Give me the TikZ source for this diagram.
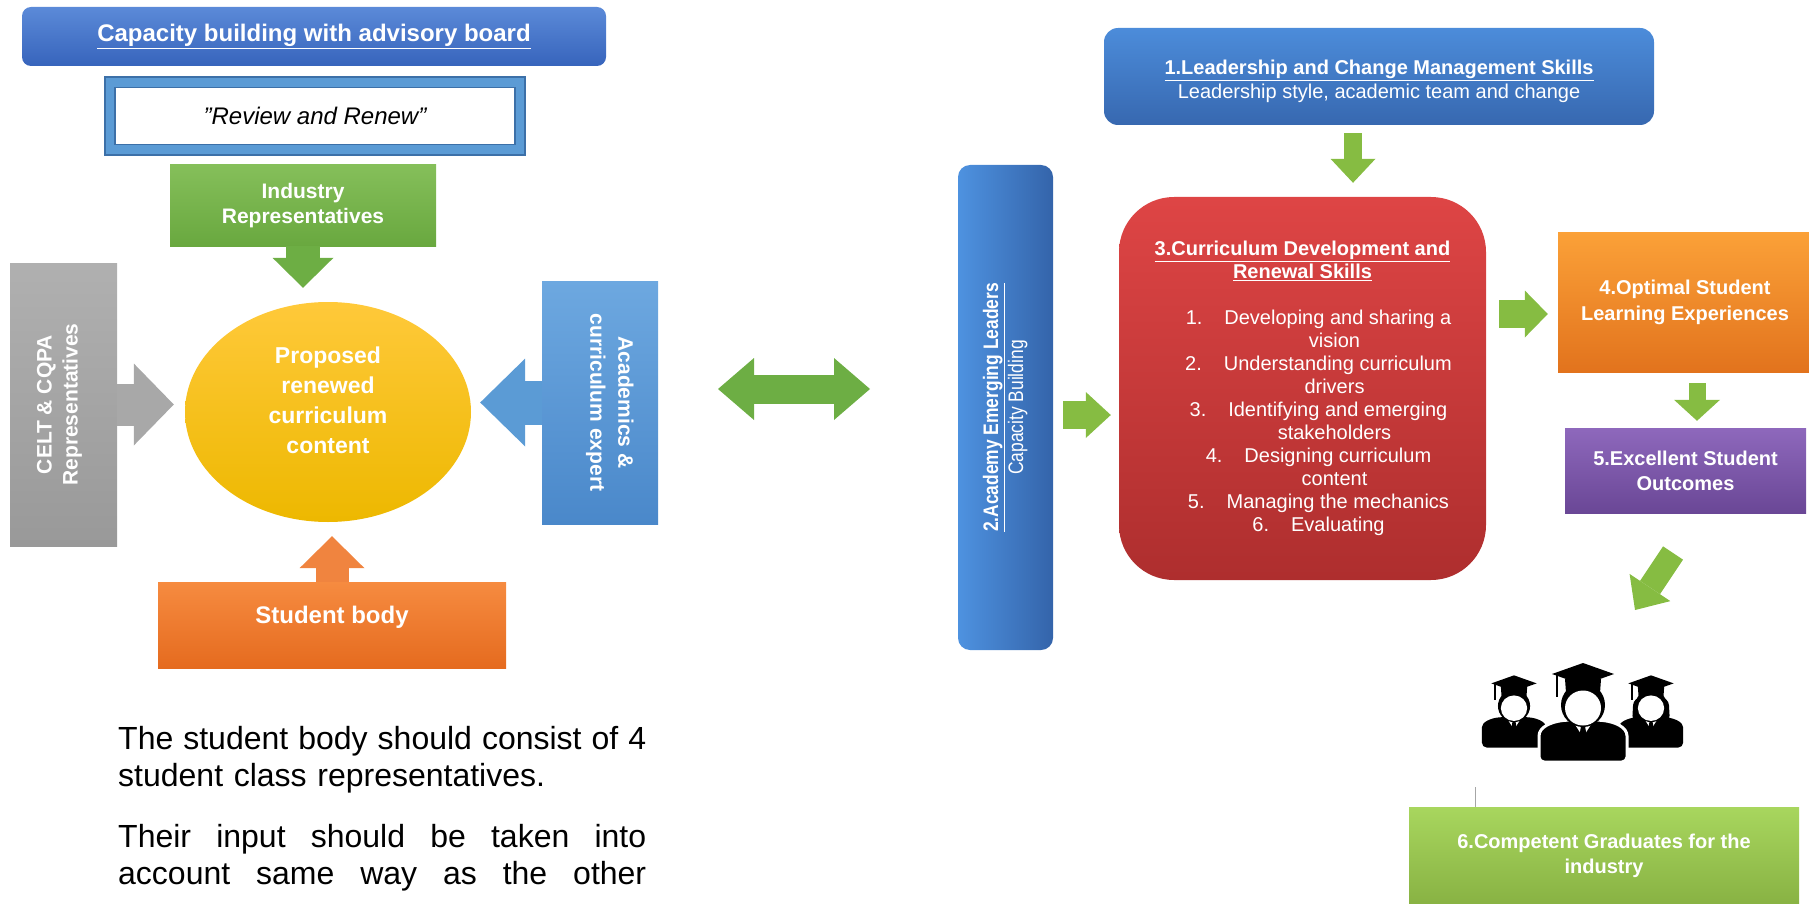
\documentclass[tikz,border=0pt]{standalone}
\usepackage{fontspec}
\setmainfont{Liberation Sans}
\newfontfamily\narrowfont[FakeStretch=0.83]{Liberation Sans}
\usetikzlibrary{arrows.meta,shapes.geometric}

\definecolor{boardtop}{HTML}{5B8AD8}
\definecolor{boardbot}{HTML}{3764BC}
\definecolor{framefill}{HTML}{5B9BD5}
\definecolor{frameline}{HTML}{3C70A8}
\definecolor{indtop}{HTML}{85BF5A}
\definecolor{indbot}{HTML}{69A83F}
\definecolor{celttop}{HTML}{B0B0B0}
\definecolor{celtbot}{HTML}{999999}
\definecolor{conttop}{HTML}{FFC93A}
\definecolor{contbot}{HTML}{EDB800}
\definecolor{acadtop}{HTML}{6DA8E0}
\definecolor{acadbot}{HTML}{4A88CA}
\definecolor{studtop}{HTML}{F68B40}
\definecolor{studbot}{HTML}{E56B1F}
\definecolor{leadtop}{HTML}{4C8CDA}
\definecolor{leadbot}{HTML}{3768B0}
\definecolor{barleft}{HTML}{4E92E0}
\definecolor{barright}{HTML}{3464AA}
\definecolor{currtop}{HTML}{DE4545}
\definecolor{currbot}{HTML}{AE2E2E}
\definecolor{opttop}{HTML}{FBA138}
\definecolor{optbot}{HTML}{E2731D}
\definecolor{exctop}{HTML}{8E68BC}
\definecolor{excbot}{HTML}{6A4796}
\definecolor{comptop}{HTML}{A8D65E}
\definecolor{compbot}{HTML}{88B243}
\definecolor{leafgreen}{HTML}{6DAE44}
\definecolor{limegreen}{HTML}{86BC42}
\definecolor{celtarrow}{HTML}{A8A8A8}
\definecolor{acadarrow}{HTML}{5B9BD5}
\definecolor{studarrow}{HTML}{F0843F}

% one graduate of the icon, #1 = head centre, #2 = scale, #3 = extra for the body
\newcommand{\gradperson}[3]{%
  \begin{scope}[shift={#1}, scale=#2]
    \fill[black, rounded corners=5pt, #3] (-44,57) -- (-44,36)
      .. controls (-44,22) and (-32,17) .. (-16,15) -- (16,15)
      .. controls (32,17) and (44,22) .. (44,36) -- (44,57) -- cycle;
    \fill[white] (-11,15) -- (0,32) -- (11,15) -- cycle;
    \fill[black] (-3,16) -- (3,16) -- (2,21) -- (3.5,30) -- (0,34) -- (-3.5,30) -- (-2,21) -- cycle;
    \fill[black] (0,0) ellipse [x radius=22, y radius=22];
    \fill[white] (0,3) ellipse [x radius=18, y radius=17.5];
    \fill[black] (-18,-26) -- (18,-26) -- (17,-12) .. controls (6,-17) and (-6,-17) .. (-17,-12) -- cycle;
    \fill[black] (-31,-31) -- (0,-42) -- (31,-31) -- (0,-20) -- cycle;
    \draw[black, line width=2.5pt] (-26,-30) -- (-26,-8);
  \end{scope}}
\newcommand{\gradhair}[2]{%
  \begin{scope}[shift={#1}, scale=#2]
    \fill[black, rounded corners=8pt] (-24,-12) -- (24,-12) -- (26,24) -- (-26,24) -- cycle;
  \end{scope}}

\begin{document}
\begin{tikzpicture}[x=1pt, y=-1pt,
    panel/.style={inner sep=0pt, align=center, text=white},
    blockarrow/.style n args={3}{line width=#1, -{Triangle[width=#2, length=#3, line width=0pt]}}]
	\useasboundingbox (0,0) rectangle (1809,904);

	% left half: the advisory board
	\node[panel, rounded corners=9pt, minimum width=584pt, minimum height=59pt, top color=boardtop, bottom color=boardbot,
		font=\fontsize{24}{28}\selectfont\bfseries] (board) at (314,36.5) {\underline{Capacity building with advisory board}};
	\node[draw=frameline, fill=framefill, line width=1.5pt, minimum width=420pt, minimum height=78pt] (frame) at (315,116) {};
	\node[draw=frameline, fill=white, line width=1.5pt, minimum width=400pt, minimum height=57pt,
		font=\fontsize{24}{28}\selectfont\itshape] (review) at (frame) {''Review and Renew''};
	\node[panel, minimum width=266pt, minimum height=81pt, top color=indtop, bottom color=indbot,
		font=\fontsize{21}{25}\selectfont\bfseries] (industry) at (303,205.5) {Industry\\Representatives};
	\node[panel, minimum width=107pt, minimum height=283pt, top color=celttop, bottom color=celtbot,
		font=\fontsize{21}{26}\selectfont\bfseries] (celt) at (63.5,404.5)
		{\rotatebox{90}{\begin{tabular}{@{}c@{}}CELT \& CQPA\\Representatives\\[-18pt]\mbox{}\end{tabular}}};
	\node[panel, ellipse, minimum width=286pt, minimum height=220pt, top color=conttop, bottom color=contbot,
		font=\fontsize{23}{30}\selectfont\bfseries] (content) at (328,412) {Proposed\\renewed\\curriculum\\content\\[-7pt]\mbox{}};
	\node[panel, minimum width=116pt, minimum height=243pt, top color=acadtop, bottom color=acadbot,
		font=\fontsize{21}{28}\selectfont\bfseries] (academics) at (600,402.5)
		{\rotatebox{-90}{\begin{tabular}{@{}c@{}}Academics \&\\curriculum expert\\[-8pt]\mbox{}\end{tabular}}};
	\node[panel, minimum width=348pt, minimum height=86pt, top color=studtop, bottom color=studbot, text height=17pt, text depth=20pt,
		font=\fontsize{24}{28}\selectfont\bfseries] (student) at (332,625) {Student body};

	\draw[leafgreen, blockarrow={34pt}{61pt}{30pt}, shorten >=14pt] (industry.south) -- (industry.south |- content.north);
	\draw[celtarrow, blockarrow={42pt}{82pt}{40pt}, shorten >=11pt] (celt.east) -- (celt.east -| content.west);
	\draw[acadarrow, blockarrow={44pt}{88pt}{45pt}, shorten >=9pt] (academics.west) -- (academics.west -| content.east);
	\draw[studarrow, blockarrow={33pt}{65pt}{32pt}, shorten >=14pt] (student.north) -- (student.north |- content.south);

	\node[anchor=north west, inner sep=0pt, align=left, text width=528pt, font=\fontsize{32}{37}\selectfont] (note) at (118,726)
		{\makebox[528pt][s]{The\hfill student\hfill body\hfill should\hfill consist\hfill of\hfill 4}\\
		 student class representatives.\\[24pt]
		 \makebox[528pt][s]{Their\hfill input\hfill should\hfill be\hfill taken\hfill into}\\
		 \makebox[528pt][s]{account\hfill same\hfill way\hfill as\hfill the\hfill other}};

	% link between the two halves
	\coordinate (linkL) at (718,389);
	\coordinate (linkR) at (870,389);
	\draw[leafgreen, line width=29pt, {Triangle[width=62pt, length=36pt, line width=0pt]}-{Triangle[width=62pt, length=36pt, line width=0pt]}] (linkL) -- (linkR);

	% right half: the academy
	\node[panel, rounded corners=14pt, minimum width=550pt, minimum height=97pt, top color=leadtop, bottom color=leadbot,
		font=\fontsize{20}{24}\selectfont] (leadership) at (1379,76.5)
		{\mbox{}\\\underline{\textbf{1.Leadership and Change Management Skills}}\\Leadership style, academic team and change};
	\node[panel, rounded corners=12pt, minimum width=95pt, minimum height=485pt, left color=barleft, right color=barright,
		font=\narrowfont\fontsize{21}{25}\selectfont] (academy) at (1005.5,407.5)
		{\rotatebox{90}{\begin{tabular}{@{}c@{}}\underline{\textbf{2.Academy Emerging Leaders}}\\Capacity Building\end{tabular}}};
	\node[panel, rounded corners=55pt, minimum width=367pt, minimum height=383pt, top color=currtop, bottom color=currbot,
		font=\fontsize{20}{23}\selectfont] (curriculum) at (1302.5,388.5)
		{\underline{\textbf{3.Curriculum Development and}}\\
		 \underline{\textbf{Renewal Skills}}\\[23pt]
		 \hspace*{32pt}1.\hspace{1.1em}Developing and sharing a\\
		 \hspace*{64pt}vision\\
		 \hspace*{32pt}2.\hspace{1.1em}Understanding curriculum\\
		 \hspace*{64pt}drivers\\
		 \hspace*{32pt}3.\hspace{1.1em}Identifying and emerging\\
		 \hspace*{64pt}stakeholders\\
		 \hspace*{32pt}4.\hspace{1.1em}Designing curriculum\\
		 \hspace*{64pt}content\\
		 \hspace*{32pt}5.\hspace{1.1em}Managing the mechanics\\
		 \hspace*{32pt}6.\hspace{1.1em}Evaluating};
	\node[panel, minimum width=254pt, minimum height=140pt, top color=opttop, bottom color=optbot,
		font=\fontsize{20}{26}\selectfont\bfseries] (optimal) at (1685,302) {4.Optimal Student\\Learning Experiences};
	\node[panel, minimum width=241pt, minimum height=85pt, top color=exctop, bottom color=excbot,
		font=\fontsize{20}{25}\selectfont\bfseries] (excellent) at (1685.5,470.5) {5.Excellent Student\\Outcomes};
	\node[panel, minimum width=390pt, minimum height=98pt, top color=comptop, bottom color=compbot,
		font=\fontsize{20}{25}\selectfont\bfseries] (competent) at (1604,856) {6.Competent Graduates for the\\industry};

	\draw[limegreen, blockarrow={18pt}{45pt}{24pt}, shorten <=8pt, shorten >=14pt] (leadership.south -| 1353,0) -- (curriculum.north -| 1353,0);
	\draw[limegreen, blockarrow={28pt}{46pt}{25pt}, shorten <=10pt, shorten >=8pt] (academy.east |- 0,415) -- (curriculum.west |- 0,415);
	\draw[limegreen, blockarrow={28pt}{47pt}{23pt}, shorten <=13pt, shorten >=10pt] (curriculum.east |- 0,314) -- (optimal.west |- 0,314);
	\draw[limegreen, blockarrow={17pt}{46pt}{21pt}, shorten <=11pt, shorten >=7pt] (optimal.south -| 1697,0) -- (excellent.north -| 1697,0);
	\coordinate (excout) at (1673,553);
	\coordinate (gradsin) at (1635,610);
	\draw[limegreen, blockarrow={24pt}{49pt}{27pt}] (excout) -- (gradsin);

	% graduates icon
	\gradperson{(1514,706)}{0.73}{}
	\gradhair{(1651,706)}{0.73}
	\gradperson{(1651,706)}{0.73}{}
	\gradperson{(1583,705)}{1}{draw=white, line width=3pt}

	\coordinate (stub) at (1475,787);
	\draw[gray!70, line width=1pt] (stub) -- (stub |- competent.north);
\end{tikzpicture}
\end{document}
